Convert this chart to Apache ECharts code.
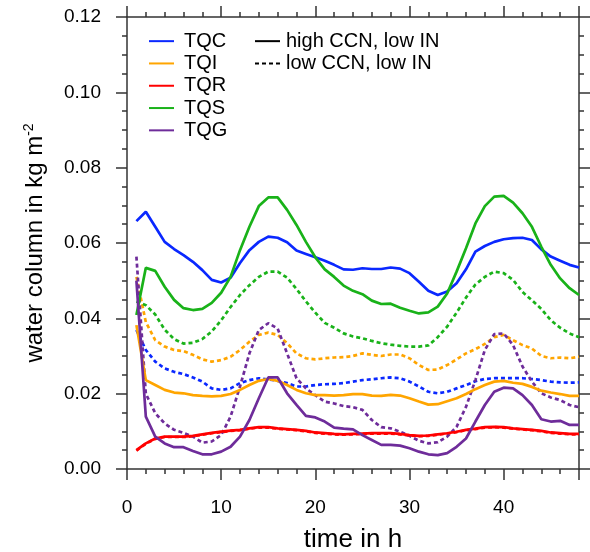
<!DOCTYPE html>
<html>
<head>
<meta charset="utf-8">
<script src="https://cdn.jsdelivr.net/npm/echarts@6/dist/echarts.min.js"></script>
<style>html,body{margin:0;padding:0;background:#fff;}#c{width:590px;height:552px;}</style>
</head>
<body>
<div id="c"></div>
<script>
const hours = [1,2,3,4,5,6,7,8,9,10,11,12,13,14,15,16,17,18,19,20,21,22,23,24,25,26,27,28,29,30,31,32,33,34,35,36,37,38,39,40,41,42,43,44,45,46,47,48];

const tqcHigh = [0.0658,0.0683,0.0643,0.0603,0.0584,0.0568,0.0550,0.0528,0.0502,0.0495,0.0508,0.0547,0.0581,0.0603,0.0617,0.0614,0.0602,0.0580,0.0571,0.0562,0.0553,0.0542,0.0530,0.0529,0.0533,0.0531,0.0531,0.0535,0.0532,0.0520,0.0497,0.0473,0.0462,0.0471,0.0493,0.0530,0.0577,0.0592,0.0603,0.0610,0.0613,0.0614,0.0608,0.0583,0.0564,0.0553,0.0542,0.0535];
const tqcLow = [0.0369,0.0316,0.0285,0.0267,0.0258,0.0252,0.0243,0.0232,0.0214,0.0210,0.0214,0.0228,0.0236,0.0241,0.0238,0.0234,0.0228,0.0219,0.0219,0.0223,0.0225,0.0226,0.0228,0.0232,0.0236,0.0238,0.0241,0.0243,0.0241,0.0232,0.0219,0.0205,0.0201,0.0205,0.0214,0.0223,0.0233,0.0239,0.0241,0.0241,0.0241,0.0241,0.0239,0.0236,0.0232,0.0230,0.0229,0.0230];

const tqiHigh = [0.0382,0.0236,0.0223,0.0210,0.0203,0.0201,0.0196,0.0194,0.0193,0.0194,0.0199,0.0210,0.0223,0.0234,0.0239,0.0234,0.0223,0.0210,0.0201,0.0196,0.0196,0.0195,0.0196,0.0199,0.0199,0.0195,0.0194,0.0197,0.0195,0.0188,0.0179,0.0171,0.0172,0.0180,0.0188,0.0199,0.0212,0.0223,0.0232,0.0234,0.0229,0.0226,0.0218,0.0208,0.0203,0.0199,0.0194,0.0194];
const tqiLow = [0.0510,0.0390,0.0342,0.0325,0.0316,0.0313,0.0303,0.0291,0.0285,0.0289,0.0298,0.0316,0.0338,0.0356,0.0362,0.0356,0.0334,0.0307,0.0294,0.0291,0.0294,0.0296,0.0297,0.0300,0.0307,0.0303,0.0300,0.0304,0.0304,0.0294,0.0276,0.0263,0.0264,0.0276,0.0291,0.0307,0.0318,0.0332,0.0350,0.0356,0.0342,0.0329,0.0320,0.0300,0.0294,0.0296,0.0294,0.0298];

const tqrHigh = [0.0050,0.0068,0.0081,0.0086,0.0086,0.0086,0.0088,0.0092,0.0096,0.0099,0.0102,0.0104,0.0108,0.0111,0.0111,0.0108,0.0106,0.0104,0.0101,0.0097,0.0095,0.0093,0.0092,0.0093,0.0094,0.0095,0.0095,0.0095,0.0093,0.0090,0.0088,0.0089,0.0092,0.0095,0.0099,0.0104,0.0107,0.0111,0.0112,0.0111,0.0108,0.0106,0.0104,0.0101,0.0097,0.0095,0.0093,0.0093];
const tqrLow = [0.0049,0.0067,0.0080,0.0085,0.0085,0.0085,0.0087,0.0091,0.0095,0.0098,0.0101,0.0103,0.0107,0.0110,0.0110,0.0107,0.0105,0.0103,0.0100,0.0096,0.0094,0.0092,0.0091,0.0092,0.0093,0.0094,0.0094,0.0094,0.0092,0.0089,0.0087,0.0088,0.0091,0.0094,0.0098,0.0103,0.0106,0.0110,0.0111,0.0110,0.0107,0.0105,0.0103,0.0100,0.0096,0.0094,0.0092,0.0092];

const tqsHigh = [0.0409,0.0534,0.0526,0.0484,0.0449,0.0427,0.0422,0.0425,0.0441,0.0468,0.0510,0.0581,0.0643,0.0698,0.0721,0.0721,0.0688,0.0648,0.0603,0.0562,0.0530,0.0510,0.0487,0.0473,0.0464,0.0447,0.0438,0.0439,0.0428,0.0420,0.0413,0.0416,0.0431,0.0466,0.0524,0.0586,0.0652,0.0698,0.0723,0.0725,0.0707,0.0679,0.0643,0.0590,0.0542,0.0506,0.0480,0.0462];
const tqsLow = [0.0445,0.0435,0.0410,0.0370,0.0345,0.0333,0.0335,0.0345,0.0365,0.0395,0.0430,0.0462,0.0488,0.0510,0.0524,0.0524,0.0508,0.0478,0.0445,0.0415,0.0388,0.0375,0.0360,0.0352,0.0347,0.0340,0.0334,0.0330,0.0327,0.0325,0.0325,0.0328,0.0350,0.0378,0.0415,0.0455,0.0490,0.0510,0.0524,0.0520,0.0502,0.0470,0.0448,0.0425,0.0395,0.0375,0.0360,0.0350];

const tqgHigh = [0.0500,0.0139,0.0086,0.0068,0.0058,0.0058,0.0048,0.0039,0.0039,0.0046,0.0059,0.0086,0.0130,0.0188,0.0243,0.0243,0.0201,0.0170,0.0141,0.0137,0.0126,0.0110,0.0107,0.0105,0.0090,0.0077,0.0064,0.0064,0.0062,0.0055,0.0046,0.0039,0.0037,0.0042,0.0059,0.0081,0.0126,0.0170,0.0205,0.0216,0.0214,0.0196,0.0170,0.0132,0.0126,0.0128,0.0117,0.0117];
const tqgLow = [0.0564,0.0200,0.0148,0.0121,0.0104,0.0096,0.0086,0.0070,0.0073,0.0090,0.0139,0.0219,0.0307,0.0369,0.0387,0.0373,0.0307,0.0241,0.0214,0.0196,0.0179,0.0174,0.0167,0.0164,0.0157,0.0130,0.0111,0.0108,0.0099,0.0088,0.0075,0.0068,0.0071,0.0086,0.0112,0.0165,0.0236,0.0316,0.0358,0.0360,0.0329,0.0272,0.0232,0.0201,0.0190,0.0183,0.0170,0.0164];

const varNames = ['TQC','TQI','TQR','TQS','TQG'];
const varColors = ['#0a28ff','#ffa500','#ff0000','#19b219','#6e2c9a'];
const highData = [tqcHigh,tqiHigh,tqrHigh,tqsHigh,tqgHigh];
const lowData = [tqcLow,tqiLow,tqrLow,tqsLow,tqgLow];
const styleNames = ['high CCN, low IN','low CCN, low IN'];

const xTicks = [0,10,20,30,40];
const yTicks = [0,0.02,0.04,0.06,0.08,0.10,0.12];

const FONT = 'Liberation Sans, Arial, Helvetica, sans-serif';
const LW = 2.7;
const DASH = [4,3];

const pair = (arr) => hours.map((h,i) => [h, arr[i]]);

const series = [];
varNames.forEach((n,i) => {
  series.push({
    name: n + ' low', type: 'line', data: pair(lowData[i]), showSymbol: false, symbol: 'none',
    lineStyle: {color: varColors[i], width: LW, type: DASH}, itemStyle: {color: varColors[i]},
    silent: true, z: 2
  });
});
varNames.forEach((n,i) => {
  series.push({
    name: n, type: 'line', data: pair(highData[i]), showSymbol: false, symbol: 'none',
    lineStyle: {color: varColors[i], width: LW}, itemStyle: {color: varColors[i]},
    silent: true, z: 3
  });
});
styleNames.forEach((n,i) => {
  series.push({
    name: n, type: 'line', data: [], showSymbol: false, symbol: 'none',
    lineStyle: {color: '#000', width: LW, type: i === 0 ? 'solid' : DASH}, itemStyle: {color: '#000'}
  });
});

const axisLineStyle = {color: '#333', width: 1.5};
const baseX = {
  type: 'value', min: 0, max: 48, interval: 10,
  axisLine: {show: true, onZero: false, lineStyle: axisLineStyle},
  axisTick: {show: true, inside: false, length: 11, lineStyle: axisLineStyle},
  minorTick: {show: true, splitNumber: 5, length: 5, lineStyle: axisLineStyle},
  splitLine: {show: false}
};
const baseY = {
  type: 'value', min: 0, max: 0.12, interval: 0.02,
  axisLine: {show: true, onZero: false, lineStyle: axisLineStyle},
  axisTick: {show: true, inside: false, length: 11, lineStyle: axisLineStyle},
  minorTick: {show: true, splitNumber: 4, length: 5, lineStyle: axisLineStyle},
  splitLine: {show: false}
};

const legendCommon = {
  orient: 'vertical', top: 25, itemWidth: 25, itemHeight: 12, itemGap: 0,
  itemStyle: {opacity: 0, borderWidth: 0},
  selectedMode: false
};

const option = {
  animation: false,
  backgroundColor: '#fff',
  grid: {left: 127, right: 11, top: 17, bottom: 83, containLabel: false, outerBoundsMode: 'none'},
  legend: [
    Object.assign({}, legendCommon, {
      data: varNames, left: 143,
      textStyle: {fontFamily: FONT, fontSize: 20, color: '#000', lineHeight: 22.3, padding: [0,0,0,5]}
    }),
    Object.assign({}, legendCommon, {
      data: styleNames, left: 249,
      textStyle: {fontFamily: FONT, fontSize: 20, color: '#000', lineHeight: 22.3, padding: [0,0,0,1]}
    })
  ],
  xAxis: [
    Object.assign({}, baseX, {
      position: 'bottom',
      name: 'time in h', nameLocation: 'middle', nameGap: 58,
      nameTextStyle: {fontFamily: FONT, fontSize: 26, color: '#000'},
      axisLabel: {margin: 29, fontFamily: FONT, fontSize: 19, color: '#000',
        formatter: v => xTicks.includes(v) ? String(v) : ''}
    }),
    Object.assign({}, baseX, {position: 'top', axisLabel: {show: false}})
  ],
  yAxis: [
    Object.assign({}, baseY, {
      position: 'left',
      name: 'water column in kg m{sup|-2}', nameLocation: 'middle', nameGap: 78,
      nameTextStyle: {fontFamily: FONT, fontSize: 24, color: '#000',
        rich: {sup: {fontFamily: FONT, fontSize: 14, color: '#000', verticalAlign: 'top', padding: [0,0,13,0]}}},
      axisLabel: {margin: 26, fontFamily: FONT, fontSize: 19, color: '#000',
        formatter: v => { const t = yTicks.find(y => Math.abs(y - v) < 1e-9); return t === undefined ? '' : t.toFixed(2); }}
    }),
    Object.assign({}, baseY, {position: 'right', axisLabel: {show: false}})
  ],
  series: series
};

const chart = echarts.init(document.getElementById('c'), null, {renderer: 'canvas'});
chart.setOption(option);
</script>
</body>
</html>
